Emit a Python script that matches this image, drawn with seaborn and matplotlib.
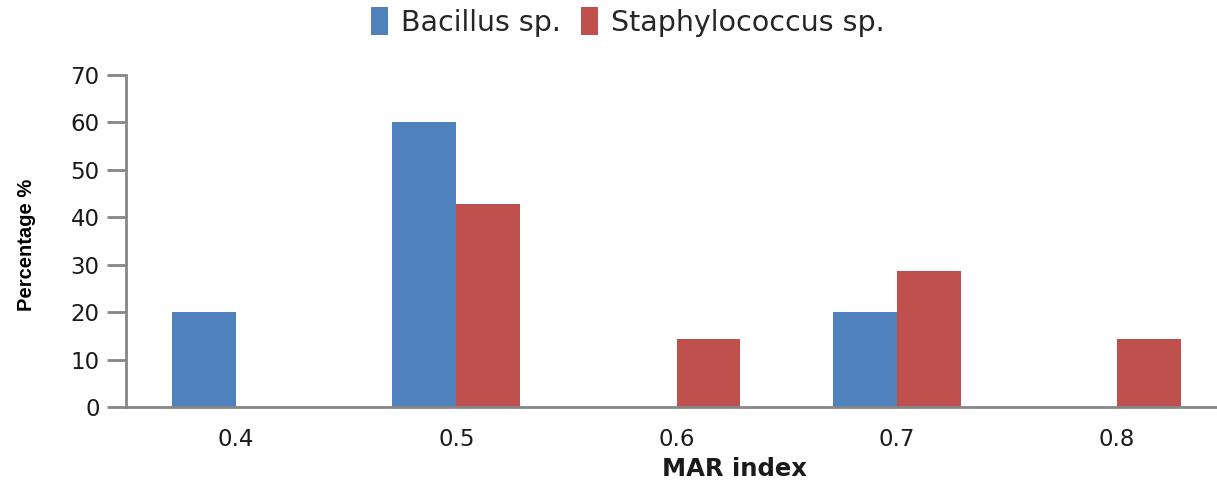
import matplotlib
matplotlib.use("Agg")
import matplotlib.pyplot as plt
from matplotlib.patches import Patch
from matplotlib.ticker import FixedLocator
import seaborn as sns
import pandas as pd

# MAR index categories and percentage of isolates per genus
mar_index = ["0.4", "0.5", "0.6", "0.7", "0.8"]
bacillus = [20.0, 60.0, 0.0, 20.0, 0.0]
staphylococcus = [0.0, 42.86, 14.29, 28.57, 14.29]
series_names = ["Bacillus sp.", "Staphylococcus sp."]
y_ticks = [0, 10, 20, 30, 40, 50, 60, 70]

colors = {"Bacillus sp.": "#4F81BD", "Staphylococcus sp.": "#C0504D"}

df = pd.DataFrame({
    "MAR index": mar_index * 2,
    "Percentage": bacillus + staphylococcus,
    "Genus": [series_names[0]] * len(mar_index) + [series_names[1]] * len(mar_index),
})

sns.set_theme(style="white")
plt.rcParams["font.family"] = ["DejaVu Sans"]

W, H = 1217, 480
fig = plt.figure(figsize=(W / 100, H / 100), dpi=100)
# plot area in pixel coordinates: left 126, right 1227, top 75, bottom 407
ax = fig.add_axes([126 / W, (H - 407) / H, 1101 / W, (407 - 75) / H])

sns.barplot(data=df, x="MAR index", y="Percentage", hue="Genus",
            palette=colors, width=0.58, gap=0, ax=ax, legend=False,
            saturation=1, linewidth=0)

axis_grey = "#868686"
ax.set_xlim(-0.5, len(mar_index) - 0.5)
ax.set_ylim(0, 70)
ax.set_yticks(y_ticks)
ax.set_yticklabels([str(v) for v in y_ticks], fontsize=16.5, color="#1a1a1a")
ax.set_xticks(range(len(mar_index)))
ax.set_xticklabels(mar_index, fontsize=16.5, color="#1a1a1a")
ax.xaxis.set_minor_locator(FixedLocator([i - 0.5 for i in range(len(mar_index) + 1)]))

ax.tick_params(axis="x", which="major", length=0, pad=15)
ax.tick_params(axis="x", which="minor", length=8, width=2, color=axis_grey, direction="out")
ax.tick_params(axis="y", which="major", length=14, width=2, color=axis_grey,
               direction="out", pad=5, left=True)

for side in ["top", "right"]:
    ax.spines[side].set_visible(False)
for side in ["left", "bottom"]:
    ax.spines[side].set_color(axis_grey)
    ax.spines[side].set_linewidth(2)

ax.set_xlabel("")
ax.set_ylabel("")
ax.grid(False)

fig.text(27 / W, 1 - 245 / H, "Percentage %", rotation=90, ha="center", va="center",
         fontsize=14.5, fontweight="bold", color="black",
         family=["Liberation Sans", "DejaVu Sans"])
fig.text(734 / W, 1 - 469 / H, "MAR index", ha="center", va="center",
         fontsize=17.5, fontweight="bold", color="#1a1a1a")

handles = [Patch(facecolor=colors[n], edgecolor="none") for n in series_names]
fig.legend(handles, series_names, loc="center", bbox_to_anchor=(628 / W, 1 - 22 / H),
           ncol=2, frameon=False, handlelength=0.6, handleheight=1.1,
           handletextpad=0.45, columnspacing=0.7,
           prop={"family": ["DejaVu Sans"], "size": 20.5})

fig.savefig("out.png", dpi=100)
